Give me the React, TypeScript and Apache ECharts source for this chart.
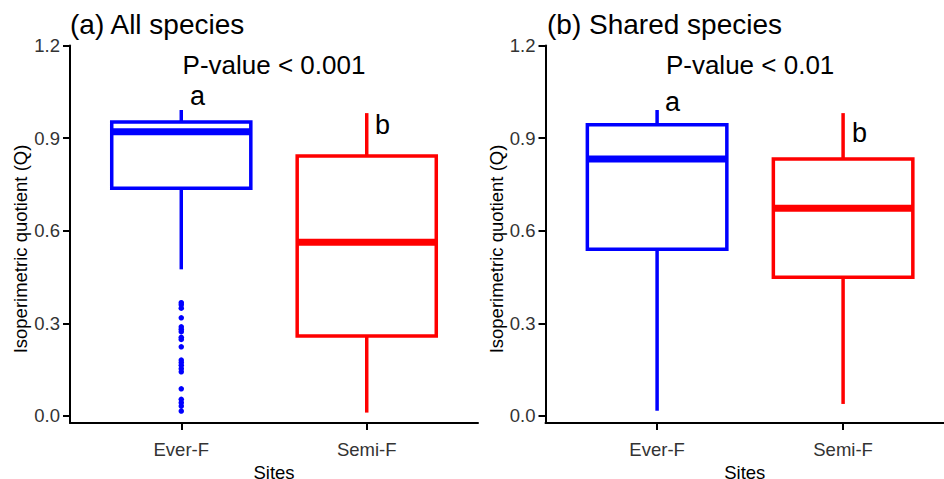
import React, { useEffect, useRef } from 'react';
import * as echarts from 'echarts';

// ---- data ----
const categories = ['Ever-F', 'Semi-F'];
const siteColors = ['#0000FF', '#FF0000'];
const yTicks = [0, 0.3, 0.6, 0.9, 1.2];
const panelTitles = ['(a) All species', '(b) Shared species'];
const yAxisTitle = 'Isoperimetric quotient (Q)';
const xAxisTitle = 'Sites';
const pValueTexts = ['P-value < 0.001', 'P-value < 0.01'];
const letterTexts = ['a', 'b'];

// [position, lower whisker, Q1, median, Q3, upper whisker]
const allEver = [1, 0.475, 0.738, 0.921, 0.952, 0.991];
const allSemi = [2, 0.011, 0.259, 0.563, 0.842, 0.981];
const sharedEver = [1, 0.017, 0.54, 0.832, 0.943, 0.991];
const sharedSemi = [2, 0.039, 0.449, 0.673, 0.832, 0.981];

// outliers of Ever-F, all species
const allEverOutliers = [
  0.367, 0.36, 0.349, 0.318, 0.289, 0.281, 0.273, 0.255, 0.248, 0.224,
  0.181, 0.173, 0.164, 0.153, 0.143, 0.088, 0.054, 0.043, 0.032, 0.016,
];

// annotation anchors [x, y] (text centre)
const allPValuePos = [1.5, 1.137];
const sharedPValuePos = [1.5, 1.137];
const allLetterPos = [[1.087, 1.038], [2.085, 0.941]];
const sharedLetterPos = [[1.083, 1.017], [2.088, 0.915]];

const FONT = '"Liberation Sans", Arial, Helvetica, sans-serif';
const BOX_WIDTH = 0.75;

function boxSeries(idx: number, data: number[][]) {
  return {
    type: 'custom',
    xAxisIndex: idx,
    yAxisIndex: idx,
    encode: { x: 0, y: [1, 2, 3, 4, 5] },
    data,
    renderItem: (params: any, api: any) => {
      const x = api.value(0);
      const lo = api.coord([x, api.value(1)]);
      const q1 = api.coord([x, api.value(2)]);
      const med = api.coord([x, api.value(3)]);
      const q3 = api.coord([x, api.value(4)]);
      const hi = api.coord([x, api.value(5)]);
      const hw = api.size([BOX_WIDTH, 0])[0] / 2;
      const color = siteColors[params.dataIndex];
      const ls = { stroke: color, lineWidth: 3.5, lineCap: 'butt' };
      return {
        type: 'group',
        children: [
          { type: 'line', shape: { x1: lo[0], y1: lo[1], x2: q1[0], y2: q1[1] }, style: ls },
          { type: 'line', shape: { x1: q3[0], y1: q3[1], x2: hi[0], y2: hi[1] }, style: ls },
          {
            type: 'rect',
            shape: { x: q3[0] - hw, y: q3[1], width: hw * 2, height: q1[1] - q3[1] },
            style: { fill: '#FFFFFF', stroke: color, lineWidth: 3.5 },
          },
          {
            type: 'line',
            shape: { x1: med[0] - hw, y1: med[1], x2: med[0] + hw, y2: med[1] },
            style: { stroke: color, lineWidth: 7, lineCap: 'butt' },
          },
        ],
      };
    },
  };
}

function textSeries(idx: number, positions: number[][], texts: string[], fontSize: number) {
  return {
    type: 'custom',
    xAxisIndex: idx,
    yAxisIndex: idx,
    encode: { x: 0, y: 1 },
    data: positions,
    z: 10,
    renderItem: (params: any, api: any) => {
      const p = api.coord([api.value(0), api.value(1)]);
      return {
        type: 'text',
        x: p[0],
        y: p[1],
        style: {
          text: texts[params.dataIndex],
          fill: '#000000',
          font: `${fontSize}px ${FONT}`,
          align: 'center',
          verticalAlign: 'middle',
        },
      };
    },
  };
}

function xAxisFor(idx: number, max: number) {
  return {
    type: 'value',
    gridIndex: idx,
    min: 0.4,
    max,
    name: xAxisTitle,
    nameLocation: 'middle',
    nameGap: 35.5,
    nameTextStyle: { fontFamily: FONT, fontSize: 18.5, color: '#000000' },
    axisLine: { onZero: false, lineStyle: { color: '#000000', width: 2 } },
    axisTick: { show: true, length: 7, customValues: [1, 2], lineStyle: { color: '#000000', width: 2 } },
    axisLabel: {
      customValues: [1, 2],
      formatter: (v: number) => categories[Math.round(v) - 1] ?? '',
      margin: 16.5,
      fontFamily: FONT,
      fontSize: 18.5,
      color: '#333333',
    },
    splitLine: { show: false },
  };
}

function yAxisFor(idx: number) {
  return {
    type: 'value',
    gridIndex: idx,
    min: -0.0227,
    max: 1.2,
    axisLine: { show: true, onZero: false, lineStyle: { color: '#000000', width: 2 } },
    axisTick: { show: true, length: 7, customValues: yTicks, lineStyle: { color: '#000000', width: 2 } },
    axisLabel: {
      customValues: yTicks,
      formatter: (v: number) => v.toFixed(1),
      margin: 10,
      fontFamily: FONT,
      fontSize: 18.5,
      color: '#333333',
    },
    splitLine: { show: false },
  };
}

function yTitle(x: number) {
  return {
    type: 'text',
    x,
    y: 249,
    rotation: Math.PI / 2,
    style: {
      text: yAxisTitle,
      font: `18.5px ${FONT}`,
      fill: '#000000',
      align: 'center',
      verticalAlign: 'middle',
    },
  };
}

export default function App() {
  const ref = useRef<HTMLDivElement>(null);
  useEffect(() => {
    if (!ref.current) return;
    document.body.style.margin = '0';
    const chart = echarts.init(ref.current, undefined, { renderer: 'svg' });
    chart.setOption({
      animation: false,
      backgroundColor: '#FFFFFF',
      grid: [
        { left: 70, top: 45.5, width: 408, height: 377.5, outerBoundsMode: 'none', containLabel: false },
        { left: 545.5, top: 45.5, width: 398.5, height: 377.5, outerBoundsMode: 'none', containLabel: false },
      ],
      // right panel is cut at the picture edge: its axis spans 0.4 .. 2.5425
      xAxis: [xAxisFor(0, 2.6), xAxisFor(1, 2.5425)],
      yAxis: [yAxisFor(0), yAxisFor(1)],
      graphic: [
        {
          type: 'text',
          x: 70,
          y: 24.8,
          style: { text: panelTitles[0], font: `28px ${FONT}`, fill: '#000000', align: 'left', verticalAlign: 'middle' },
        },
        {
          type: 'text',
          x: 547,
          y: 24.8,
          style: { text: panelTitles[1], font: `28px ${FONT}`, fill: '#000000', align: 'left', verticalAlign: 'middle' },
        },
        yTitle(20),
        yTitle(496),
      ],
      series: [
        boxSeries(0, [allEver, allSemi]),
        {
          type: 'scatter',
          xAxisIndex: 0,
          yAxisIndex: 0,
          symbol: 'circle',
          symbolSize: 5.5,
          itemStyle: { color: siteColors[0], opacity: 1 },
          data: allEverOutliers.map((v) => [1, v]),
        },
        boxSeries(1, [sharedEver, sharedSemi]),
        textSeries(0, [allPValuePos], [pValueTexts[0]], 26),
        textSeries(1, [sharedPValuePos], [pValueTexts[1]], 26),
        textSeries(0, allLetterPos, letterTexts, 27),
        textSeries(1, sharedLetterPos, letterTexts, 27),
      ],
    });
    return () => chart.dispose();
  }, []);
  return (
    <div
      ref={ref}
      style={{
        position: 'absolute',
        left: 0,
        top: 0,
        width: 944,
        height: 479,
        overflow: 'hidden',
        background: '#FFFFFF',
      }}
    />
  );
}
